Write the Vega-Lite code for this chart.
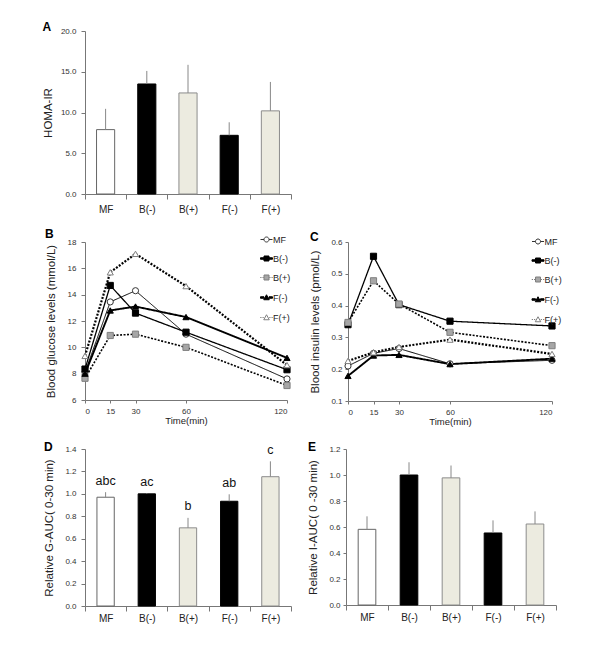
{
  "$schema": "https://vega.github.io/schema/vega-lite/v6.json",
  "background": "white",
  "padding": {"left": 42, "top": 21, "right": 5, "bottom": 5},
  "config": {
    "font": "Liberation Sans",
    "view": {"stroke": null},
    "axis": {"labelFont": "Liberation Sans", "labelFontSize": 8, "labelColor": "#333", "titleFont": "Liberation Sans", "titleFontSize": 11.5, "titleFontWeight": "normal", "titleColor": "#222", "domainColor": "#777", "tickColor": "#777", "grid": false, "tickSize": 4, "labelPadding": 5, "titlePadding": 10, "labelOverlap": false},
    "title": {"font": "Liberation Sans", "fontSize": 12, "fontWeight": "bold", "anchor": "start", "frame": "bounds", "color": "#000", "offset": 4},
    "legend": {"orient": "none", "title": null, "labelFont": "Liberation Sans", "labelFontSize": 9, "labelColor": "#222", "symbolSize": 25, "symbolStrokeWidth": 1, "rowPadding": 9, "labelOffset": 2, "padding": 0}
  },
  "datasets": {
    "homa": [
      {"g": "MF", "v": 7.9, "hi": 10.45},
      {"g": "B(-)", "v": 13.5, "hi": 15.1},
      {"g": "B(+)", "v": 12.4, "hi": 15.85},
      {"g": "F(-)", "v": 7.2, "hi": 8.8},
      {"g": "F(+)", "v": 10.2, "hi": 13.75}
    ],
    "gauc": [
      {"g": "MF", "v": 0.97, "hi": 1.015, "sig": "abc"},
      {"g": "B(-)", "v": 1.0, "hi": 1.006, "sig": "ac"},
      {"g": "B(+)", "v": 0.697, "hi": 0.786, "sig": "b"},
      {"g": "F(-)", "v": 0.934, "hi": 0.996, "sig": "ab"},
      {"g": "F(+)", "v": 1.153, "hi": 1.29, "sig": "c"}
    ],
    "iauc": [
      {"g": "MF", "v": 0.582, "hi": 0.682},
      {"g": "B(-)", "v": 1.0, "hi": 1.098},
      {"g": "B(+)", "v": 0.978, "hi": 1.073},
      {"g": "F(-)", "v": 0.554, "hi": 0.651},
      {"g": "F(+)", "v": 0.623, "hi": 0.72}
    ],
    "glucose": [
      {"g": "MF", "t": 0, "v": 8.1}, {"g": "MF", "t": 15, "v": 13.45}, {"g": "MF", "t": 30, "v": 14.3}, {"g": "MF", "t": 60, "v": 11.0}, {"g": "MF", "t": 120, "v": 7.6},
      {"g": "B(-)", "t": 0, "v": 8.35}, {"g": "B(-)", "t": 15, "v": 14.7}, {"g": "B(-)", "t": 30, "v": 12.6}, {"g": "B(-)", "t": 60, "v": 11.15}, {"g": "B(-)", "t": 120, "v": 8.3},
      {"g": "B(+)", "t": 0, "v": 7.65}, {"g": "B(+)", "t": 15, "v": 10.9}, {"g": "B(+)", "t": 30, "v": 11.0}, {"g": "B(+)", "t": 60, "v": 10.0}, {"g": "B(+)", "t": 120, "v": 7.1},
      {"g": "F(-)", "t": 0, "v": 8.0}, {"g": "F(-)", "t": 15, "v": 12.8}, {"g": "F(-)", "t": 30, "v": 13.1}, {"g": "F(-)", "t": 60, "v": 12.3}, {"g": "F(-)", "t": 120, "v": 9.2},
      {"g": "F(+)", "t": 0, "v": 9.35}, {"g": "F(+)", "t": 15, "v": 15.7}, {"g": "F(+)", "t": 30, "v": 17.1}, {"g": "F(+)", "t": 60, "v": 14.65}, {"g": "F(+)", "t": 120, "v": 8.65}
    ],
    "insulin": [
      {"g": "MF", "t": 0, "v": 0.21}, {"g": "MF", "t": 15, "v": 0.25}, {"g": "MF", "t": 30, "v": 0.265}, {"g": "MF", "t": 60, "v": 0.217}, {"g": "MF", "t": 120, "v": 0.228},
      {"g": "B(-)", "t": 0, "v": 0.34}, {"g": "B(-)", "t": 15, "v": 0.555}, {"g": "B(-)", "t": 30, "v": 0.403}, {"g": "B(-)", "t": 60, "v": 0.351}, {"g": "B(-)", "t": 120, "v": 0.336},
      {"g": "B(+)", "t": 0, "v": 0.347}, {"g": "B(+)", "t": 15, "v": 0.478}, {"g": "B(+)", "t": 30, "v": 0.405}, {"g": "B(+)", "t": 60, "v": 0.316}, {"g": "B(+)", "t": 120, "v": 0.274},
      {"g": "F(-)", "t": 0, "v": 0.179}, {"g": "F(-)", "t": 15, "v": 0.243}, {"g": "F(-)", "t": 30, "v": 0.245}, {"g": "F(-)", "t": 60, "v": 0.216}, {"g": "F(-)", "t": 120, "v": 0.233},
      {"g": "F(+)", "t": 0, "v": 0.226}, {"g": "F(+)", "t": 15, "v": 0.253}, {"g": "F(+)", "t": 30, "v": 0.27}, {"g": "F(+)", "t": 60, "v": 0.293}, {"g": "F(+)", "t": 120, "v": 0.248}
    ]
  },
  "spacing": 14,
  "resolve": {"scale": {"fill": "independent", "stroke": "independent", "shape": "independent", "strokeDash": "independent", "strokeWidth": "independent"}, "legend": {"fill": "independent", "stroke": "independent", "shape": "independent"}},
  "vconcat": [
    {
      "width": 206, "height": 163,
      "title": {"text": "A", "offset": -7},
      "data": {"name": "homa"},
      "encoding": {
        "x": {"field": "g", "type": "nominal", "sort": ["MF", "B(-)", "B(+)", "F(-)", "F(+)"], "scale": {"paddingInner": 0, "paddingOuter": 0}, "axis": {"title": null, "labelAngle": 0, "labelFontSize": 10, "labelColor": "#222", "tickBand": "extent", "tickSize": 5, "labelPadding": 5}}
      },
      "layer": [
        {
          "mark": {"type": "bar", "width": {"band": 0.44}, "strokeWidth": 1},
          "encoding": {
            "y": {"field": "v", "type": "quantitative", "scale": {"domain": [0, 20], "nice": false}, "axis": {"values": [0, 5, 10, 15, 20], "format": ".1f", "title": "HOMA-IR", "titlePadding": 7, "labelOverlap": false}},
            "fill": {"field": "g", "type": "nominal", "scale": {"domain": ["MF", "B(-)", "B(+)", "F(-)", "F(+)"], "range": ["#FFFFFF", "#000000", "#ECEBE0", "#000000", "#ECEBE0"]}, "legend": null},
            "stroke": {"field": "g", "type": "nominal", "scale": {"domain": ["MF", "B(-)", "B(+)", "F(-)", "F(+)"], "range": ["#666666", "#000000", "#8C8C8C", "#000000", "#8C8C8C"]}, "legend": null}
          }
        },
        {
          "mark": {"type": "rule", "color": "#888", "strokeWidth": 1},
          "encoding": {"y": {"field": "v", "type": "quantitative"}, "y2": {"field": "hi"}}
        }
      ]
    },
    {
      "spacing": 61,
      "bounds": "flush",
      "resolve": {"scale": {"fill": "independent", "stroke": "independent", "shape": "independent", "strokeDash": "independent", "strokeWidth": "independent"}, "legend": {"fill": "independent", "stroke": "independent", "shape": "independent"}},
      "hconcat": [
        {
          "width": 202, "height": 158,
          "title": {"text": "B", "offset": -6},
          "data": {"name": "glucose"},
          "encoding": {
            "x": {"field": "t", "type": "quantitative", "scale": {"domain": [0, 120], "nice": false}, "axis": {"values": [0, 15, 30, 60, 120], "title": "Time(min)", "titleFontSize": 9.5, "titlePadding": 0, "tickSize": 3, "labelPadding": 4, "labelOverlap": false}},
            "y": {"field": "v", "type": "quantitative", "scale": {"domain": [6, 18], "nice": false, "zero": false}, "axis": {"values": [6, 8, 10, 12, 14, 16, 18], "title": "Blood glucose levels (mmol/L)", "titlePadding": 11, "labelOverlap": false}}
          },
          "resolve": {"scale": {"fill": "independent", "stroke": "independent", "shape": "independent"}, "legend": {"fill": "independent", "stroke": "independent", "shape": "independent"}},
          "layer": [
            {
              "mark": {"type": "line", "color": "#000"},
              "encoding": {
                "strokeDash": {"field": "g", "type": "nominal", "scale": {"domain": ["MF", "B(-)", "B(+)", "F(-)", "F(+)"], "range": [[1, 0], [1, 0], [2, 1.5], [1, 0], [2, 1.5]]}, "legend": null},
                "strokeWidth": {"field": "g", "type": "nominal", "scale": {"domain": ["MF", "B(-)", "B(+)", "F(-)", "F(+)"], "range": [1, 2.2, 1.3, 2.2, 1.3]}, "legend": null}
              }
            },
            {
              "mark": {"type": "point", "filled": true, "opacity": 1, "strokeWidth": 1},
              "encoding": {
                "shape": {"field": "g", "type": "nominal", "scale": {"domain": ["MF", "B(-)", "B(+)", "F(-)", "F(+)"], "range": ["circle", "square", "square", "triangle-up", "triangle-up"]}, "legend": null},
                "fill": {"field": "g", "type": "nominal", "scale": {"domain": ["MF", "B(-)", "B(+)", "F(-)", "F(+)"], "range": ["#FFFFFF", "#000000", "#A6A6A6", "#000000", "#FFFFFF"]}, "legend": null},
                "stroke": {"field": "g", "type": "nominal", "scale": {"domain": ["MF", "B(-)", "B(+)", "F(-)", "F(+)"], "range": ["#333333", "#000000", "#7F7F7F", "#000000", "#7F7F7F"]}, "legend": null},
                "size": {"value": 38}
              }
            },
            {
              "transform": [{"filter": "false"}],
              "mark": {"type": "point", "filled": true, "opacity": 1, "strokeWidth": 1},
              "encoding": {
                "shape": {"field": "g", "type": "nominal", "scale": {"domain": ["MF", "B(-)", "B(+)", "F(-)", "F(+)"], "range": ["M-2.4,0H-1M1,0H2.4M-1,0A1,1,0,1,0,1,0A1,1,0,1,0,-1,0Z", "M-2.4,-0.3H-1V0.3H-2.4ZM1,-0.3H2.4V0.3H1ZM-1,-1H1V1H-1Z", "M-2.5,0H-2M-1.6,0H-1.1M1.1,0H1.6M2,0H2.5M-1,-1H1V1H-1Z", "M-2.4,-0.3H-1V0.3H-2.4ZM1,-0.3H2.4V0.3H1ZM0,-1.1L1.1,0.9H-1.1Z", "M-2.5,0H-2M-1.6,0H-1.1M1.1,0H1.6M2,0H2.5M0,-1.1L1.1,0.9H-1.1Z"]}, "legend": {"legendX": 177, "legendY": -7}},
                "fill": {"field": "g", "type": "nominal", "scale": {"domain": ["MF", "B(-)", "B(+)", "F(-)", "F(+)"], "range": ["#FFFFFF", "#000000", "#A6A6A6", "#000000", "#FFFFFF"]}, "legend": {"legendX": 177, "legendY": -7}},
                "stroke": {"field": "g", "type": "nominal", "scale": {"domain": ["MF", "B(-)", "B(+)", "F(-)", "F(+)"], "range": ["#333333", "#000000", "#7F7F7F", "#000000", "#7F7F7F"]}, "legend": {"legendX": 177, "legendY": -7}}
              }
            }
          ]
        },
        {
          "width": 204, "height": 159,
          "title": {"text": "C", "offset": -7},
          "data": {"name": "insulin"},
          "encoding": {
            "x": {"field": "t", "type": "quantitative", "scale": {"domain": [0, 120], "nice": false}, "axis": {"values": [0, 15, 30, 60, 120], "title": "Time(min)", "titleFontSize": 9.5, "titlePadding": 0, "tickSize": 3, "labelPadding": 4, "labelOverlap": false}},
            "y": {"field": "v", "type": "quantitative", "scale": {"domain": [0.1, 0.6], "nice": false, "zero": false}, "axis": {"values": [0.1, 0.2, 0.3, 0.4, 0.5, 0.6], "format": ".1f", "title": "Blood insulin levels (pmol/L)", "tickSize": 3, "labelPadding": 3, "labelOverlap": false}}
          },
          "resolve": {"scale": {"fill": "independent", "stroke": "independent", "shape": "independent"}, "legend": {"fill": "independent", "stroke": "independent", "shape": "independent"}},
          "layer": [
            {
              "mark": {"type": "line", "color": "#000"},
              "encoding": {
                "strokeDash": {"field": "g", "type": "nominal", "scale": {"domain": ["MF", "B(-)", "B(+)", "F(-)", "F(+)"], "range": [[1, 0], [1, 0], [2, 1.5], [1, 0], [2, 1.5]]}, "legend": null},
                "strokeWidth": {"field": "g", "type": "nominal", "scale": {"domain": ["MF", "B(-)", "B(+)", "F(-)", "F(+)"], "range": [1, 2.2, 1.3, 2.2, 1.3]}, "legend": null}
              }
            },
            {
              "mark": {"type": "point", "filled": true, "opacity": 1, "strokeWidth": 1},
              "encoding": {
                "shape": {"field": "g", "type": "nominal", "scale": {"domain": ["MF", "B(-)", "B(+)", "F(-)", "F(+)"], "range": ["circle", "square", "square", "triangle-up", "triangle-up"]}, "legend": null},
                "fill": {"field": "g", "type": "nominal", "scale": {"domain": ["MF", "B(-)", "B(+)", "F(-)", "F(+)"], "range": ["#FFFFFF", "#000000", "#A6A6A6", "#000000", "#FFFFFF"]}, "legend": null},
                "stroke": {"field": "g", "type": "nominal", "scale": {"domain": ["MF", "B(-)", "B(+)", "F(-)", "F(+)"], "range": ["#333333", "#000000", "#7F7F7F", "#000000", "#7F7F7F"]}, "legend": null},
                "size": {"value": 38}
              }
            },
            {
              "transform": [{"filter": "false"}],
              "mark": {"type": "point", "filled": true, "opacity": 1, "strokeWidth": 1},
              "encoding": {
                "shape": {"field": "g", "type": "nominal", "scale": {"domain": ["MF", "B(-)", "B(+)", "F(-)", "F(+)"], "range": ["M-2.4,0H-1M1,0H2.4M-1,0A1,1,0,1,0,1,0A1,1,0,1,0,-1,0Z", "M-2.4,-0.3H-1V0.3H-2.4ZM1,-0.3H2.4V0.3H1ZM-1,-1H1V1H-1Z", "M-2.5,0H-2M-1.6,0H-1.1M1.1,0H1.6M2,0H2.5M-1,-1H1V1H-1Z", "M-2.4,-0.3H-1V0.3H-2.4ZM1,-0.3H2.4V0.3H1ZM0,-1.1L1.1,0.9H-1.1Z", "M-2.5,0H-2M-1.6,0H-1.1M1.1,0H1.6M2,0H2.5M0,-1.1L1.1,0.9H-1.1Z"]}, "legend": {"legendX": 185.5, "legendY": -5}},
                "fill": {"field": "g", "type": "nominal", "scale": {"domain": ["MF", "B(-)", "B(+)", "F(-)", "F(+)"], "range": ["#FFFFFF", "#000000", "#A6A6A6", "#000000", "#FFFFFF"]}, "legend": {"legendX": 185.5, "legendY": -5}},
                "stroke": {"field": "g", "type": "nominal", "scale": {"domain": ["MF", "B(-)", "B(+)", "F(-)", "F(+)"], "range": ["#333333", "#000000", "#7F7F7F", "#000000", "#7F7F7F"]}, "legend": {"legendX": 185.5, "legendY": -5}}
              }
            }
          ]
        }
      ]
    },
    {
      "spacing": 55,
      "bounds": "flush",
      "resolve": {"scale": {"fill": "independent", "stroke": "independent"}},
      "hconcat": [
        {
          "width": 206, "height": 157,
          "title": {"text": "D", "offset": -10.5},
          "data": {"name": "gauc"},
          "encoding": {
            "x": {"field": "g", "type": "nominal", "sort": ["MF", "B(-)", "B(+)", "F(-)", "F(+)"], "scale": {"paddingInner": 0, "paddingOuter": 0}, "axis": {"title": null, "labelAngle": 0, "labelFontSize": 10, "labelColor": "#222", "tickBand": "extent", "tickSize": 5, "labelPadding": 2}}
          },
          "layer": [
            {
              "mark": {"type": "bar", "width": {"band": 0.42}, "strokeWidth": 1},
              "encoding": {
                "y": {"field": "v", "type": "quantitative", "scale": {"domain": [0, 1.4], "nice": false}, "axis": {"tickCount": 7, "format": ".1f", "title": "Relative G-AUC( 0-30 min)", "titlePadding": 10, "labelOverlap": false, "labelBound": false}},
                "fill": {"field": "g", "type": "nominal", "scale": {"domain": ["MF", "B(-)", "B(+)", "F(-)", "F(+)"], "range": ["#FFFFFF", "#000000", "#ECEBE0", "#000000", "#ECEBE0"]}, "legend": null},
                "stroke": {"field": "g", "type": "nominal", "scale": {"domain": ["MF", "B(-)", "B(+)", "F(-)", "F(+)"], "range": ["#666666", "#000000", "#8C8C8C", "#000000", "#8C8C8C"]}, "legend": null}
              }
            },
            {
              "mark": {"type": "rule", "color": "#888", "strokeWidth": 1},
              "encoding": {"y": {"field": "v", "type": "quantitative"}, "y2": {"field": "hi"}}
            },
            {
              "mark": {"type": "text", "dy": -4.5, "baseline": "bottom", "fontSize": 12.5, "font": "Liberation Sans", "color": "#111"},
              "encoding": {"y": {"field": "hi", "type": "quantitative"}, "text": {"field": "sig"}}
            }
          ]
        },
        {
          "width": 210, "height": 156,
          "title": {"text": "E", "offset": -8.5},
          "data": {"name": "iauc"},
          "encoding": {
            "x": {"field": "g", "type": "nominal", "sort": ["MF", "B(-)", "B(+)", "F(-)", "F(+)"], "scale": {"paddingInner": 0, "paddingOuter": 0}, "axis": {"title": null, "labelAngle": 0, "labelFontSize": 10, "labelColor": "#222", "tickBand": "extent", "tickSize": 5, "labelPadding": 2}}
          },
          "layer": [
            {
              "mark": {"type": "bar", "width": {"band": 0.42}, "strokeWidth": 1},
              "encoding": {
                "y": {"field": "v", "type": "quantitative", "scale": {"domain": [0, 1.2], "nice": false}, "axis": {"tickCount": 6, "format": ".1f", "title": "Relative I-AUC( 0 -30 min)", "tickSize": 3, "labelPadding": 3, "labelOverlap": false, "labelBound": false}},
                "fill": {"field": "g", "type": "nominal", "scale": {"domain": ["MF", "B(-)", "B(+)", "F(-)", "F(+)"], "range": ["#FFFFFF", "#000000", "#ECEBE0", "#000000", "#ECEBE0"]}, "legend": null},
                "stroke": {"field": "g", "type": "nominal", "scale": {"domain": ["MF", "B(-)", "B(+)", "F(-)", "F(+)"], "range": ["#666666", "#000000", "#8C8C8C", "#000000", "#8C8C8C"]}, "legend": null}
              }
            },
            {
              "mark": {"type": "rule", "color": "#888", "strokeWidth": 1},
              "encoding": {"y": {"field": "v", "type": "quantitative"}, "y2": {"field": "hi"}}
            }
          ]
        }
      ]
    }
  ]
}
